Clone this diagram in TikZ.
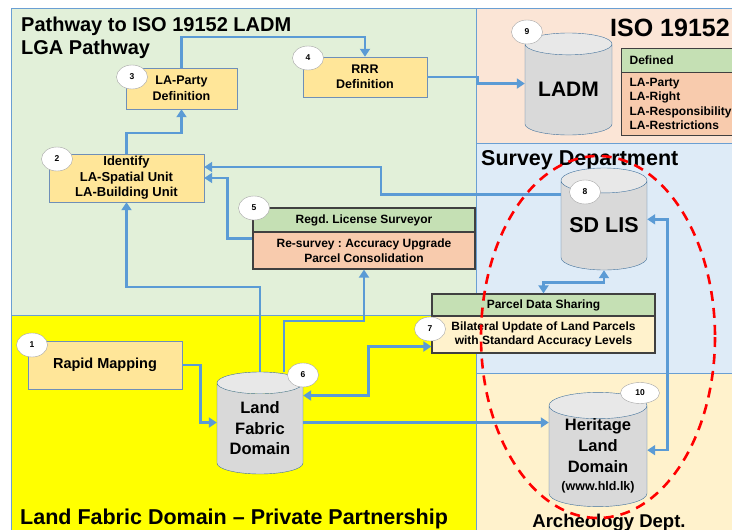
\documentclass[tikz,border=0pt]{standalone}
\usepackage{fontspec}
\setmainfont{Liberation Sans}
\usepackage{tikz}
\usetikzlibrary{arrows.meta,positioning,shapes.geometric}
\definecolor{panegreen}{HTML}{E2F0D9}
\definecolor{panepeach}{HTML}{FBE5D6}
\definecolor{paneblue}{HTML}{DEEBF7}
\definecolor{panecream}{HTML}{FFF2CC}
\definecolor{paneyellow}{HTML}{FFFF00}
\definecolor{paneline}{HTML}{6A9FD3}
\definecolor{boxfill}{HTML}{FFE699}
\definecolor{boxedge}{HTML}{6F8FB8}
\definecolor{headgreen}{HTML}{C5E0B4}
\definecolor{bodypeach}{HTML}{F8CBAD}
\definecolor{bodycream}{HTML}{FFF2CC}
\definecolor{darkedge}{HTML}{404040}
\definecolor{dbedge}{HTML}{41719C}
\definecolor{dbbody}{HTML}{D9D9D9}
\definecolor{dbtop}{HTML}{E8E8E8}
\definecolor{flow}{HTML}{5B9BD5}
\definecolor{numedge}{HTML}{A6A6A6}
\frenchspacing

\begin{document}
\begin{tikzpicture}[x=1pt,y=-1pt,>={Triangle[width=10pt,length=8pt]},
 title/.style={anchor=base west,inner sep=0pt,font=\bfseries\fontsize{#1}{#1}\selectfont},
 box/.style={draw=boxedge,fill=boxfill,align=center,inner sep=0pt,font=\bfseries\fontsize{12.5}{15.5}\selectfont},
 head/.style={draw=darkedge,line width=1.2pt,fill=headgreen,inner sep=0pt,font=\bfseries\fontsize{12}{14}\selectfont},
 body/.style={draw=darkedge,line width=1.2pt,inner sep=0pt,align=center,font=\bfseries\fontsize{12}{15}\selectfont},
 db/.style={cylinder,shape border rotate=90,aspect=0.36,anchor=shape center,draw=dbedge,cylinder uses custom fill,cylinder body fill=dbbody,cylinder end fill=dbtop,inner sep=0pt,align=center},
 num/.style={ellipse,draw=numedge,fill=white,inner sep=0pt,minimum width=31,minimum height=24,font=\bfseries\fontsize{8.5}{8.5}\selectfont},
 arr/.style={->,line width=2.6pt,flow},arr2/.style={arr,<->}]
\path[use as bounding box] (0,0) rectangle (732,530);
\clip (0,0) rectangle (732,530);
% panes
\fill[panegreen] (11,8) rectangle (476,315);
\fill[panepeach] (476,8) rectangle (732,143);
\fill[paneblue] (476,143) rectangle (732,373);
\fill[paneyellow] (11,315) rectangle (476,530);
\fill[panecream] (476,373) rectangle (732,530);
\draw[paneline,line width=.8pt] (11,530)--(11,8)--(732,8) (476,8)--(476,530) (11,315)--(476,315) (476,143)--(732,143) (476,373)--(732,373);
\node[title=20] (lgatitle) at (21,31) {Pathway to ISO 19152 LADM};
\node[title=20] (lgasub) at (21,54) {LGA Pathway};
\node[title=25] (isotitle) at (610,36) {ISO 19152};
\node[title=21.5] (sdtitle) at (481,165) {Survey Department};
\node[title=21.5] (lfdtitle) at (20,524) {Land Fabric Domain -- Private Partnership};
\node[title=18.5,anchor=base] (hldtitle) at (609,527) {Archeology Dept.};
% boxes
\node[box,minimum width=154,minimum height=48,font=\bfseries\fontsize{14.5}{17}\selectfont] (rapid) at (105,365) {Rapid Mapping};
\node[box,minimum width=155,minimum height=48,font=\bfseries\fontsize{13}{15.5}\selectfont] (identify) at (126.5,178) {Identify\\LA-Spatial Unit\\LA-Building Unit};
\node[box,minimum width=111,minimum height=41] (party) at (181.5,88.5) {LA-Party\\Definition};
\node[box,minimum width=124,minimum height=40] (rrr) at (365,77) {RRR\\Definition};
\node[head,minimum width=222,minimum height=24] (surveyor) at (364,220) {Regd. License Surveyor};
\node[body,fill=bodypeach,minimum width=222,minimum height=37] (resurvey) at (364,250.5) {Re-survey : Accuracy Upgrade\\Parcel Consolidation};
\node[head,minimum width=223,minimum height=22] (share) at (543.5,305) {Parcel Data Sharing};
\node[body,fill=bodycream,minimum width=223,minimum height=37,font=\bfseries\fontsize{12}{14.5}\selectfont] (update) at (543.5,334.5) {Bilateral Update of Land Parcels\\with Standard Accuracy Levels};
\node[head,anchor=north west,minimum height=24,text width=124,inner xsep=8pt,align=left,font=\bfseries\fontsize{12}{14}\selectfont] (defhead) at (621,48) {Defined};
\node[body,fill=bodypeach,anchor=north west,minimum height=63,text width=124,inner xsep=8pt,align=left,font=\bfseries\fontsize{12}{14.5}\selectfont] (deflist) at (621,72) {LA-Party\\LA-Right\\LA-Responsibility\\LA-Restrictions};
% data stores
\node[db,minimum width=87,minimum height=102,font=\bfseries\fontsize{21}{21}\selectfont] (ladm) at (568.5,84) {LADM};
\node[db,minimum width=86,minimum height=102,font=\bfseries\fontsize{21.5}{21.5}\selectfont] (sdlis) at (604,219) {SD LIS};
\node[db,minimum width=86,minimum height=102,font=\bfseries\fontsize{16.5}{20.5}\selectfont] (lfd) at (260,423) {Land\\Fabric\\Domain};
\node[db,minimum width=98,minimum height=105,font=\bfseries\fontsize{16.5}{21}\selectfont] (hld) at (598,449.5) {Heritage\\Land\\Domain\\[-3pt]{\fontsize{12.5}{14}\selectfont(www.hld.lk)}};
% flows
\draw[arr] (party.north) -- ++(0,-31) -| (rrr.north);
\draw[arr] (identify.north) -- ++(0,-21) -| (party.south);
\draw[arr] (rrr.east) -- ++(50,0) |- ([yshift=6pt]ladm.west);
\draw[arr] ([yshift=31pt]sdlis.west) -- ++(-180,0) |- ([yshift=11pt]identify.east);
\draw[arr] ([yshift=12pt]resurvey.west) -- ++(-25,0) |- (identify.east);
\draw[arr] (lfd.north) -- ++(0,-85) -| (identify.south);
\draw[arr] ([xshift=24pt]lfd.north) -- ++(0,-51) -| (resurvey.south);
\draw[arr2] ([yshift=33pt]lfd.east) -- ++(65,0) |- ([yshift=-12pt]update.west);
\draw[arr] (rapid.east) -- ++(18,0) |- ([yshift=6pt]lfd.west);
\draw[arr] ([yshift=6pt]lfd.east) -- ([yshift=6pt]lfd.east -| hld.west);
\draw[arr2] (share.north) -- ++(0,-11) -| (sdlis.south);
\draw[arr2] ([yshift=6pt]hld.east) -- ++(20,0) |- ([yshift=6pt]sdlis.east);
% step numbers
\node[num] (n1) at (32,345) {1};
\node[num] (n2) at (57,159) {2};
\node[num] (n3) at (132,77) {3};
\node[num] (n4) at (308,58) {4};
\node[num] (n5) at (254,208) {5};
\node[num] (n6) at (303,375) {6};
\node[num] (n7) at (430,329) {7};
\node[num] (n8) at (585,192) {8};
\node[num] (n9) at (527,32) {9};
\node[num,minimum width=39,minimum height=21] (n10) at (640,393) {10};
% boundary of shared data
\draw[red,line width=2.6pt,dash pattern=on 10pt off 7pt] (598,337) ellipse [x radius=117,y radius=181];
\end{tikzpicture}
\end{document}
